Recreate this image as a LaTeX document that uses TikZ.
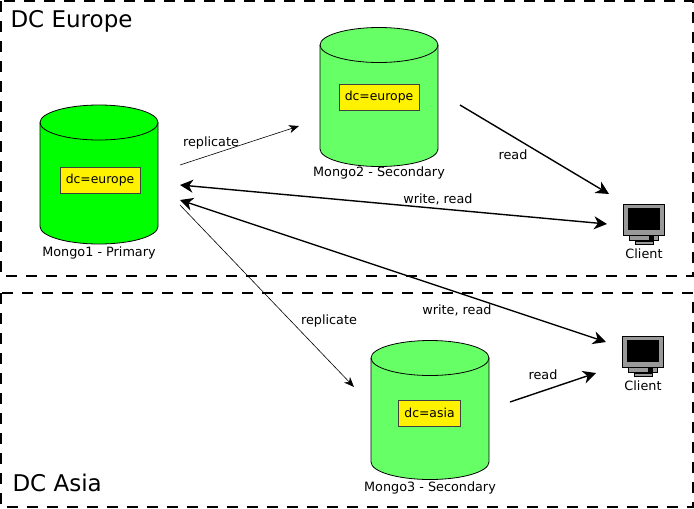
\documentclass[tikz,border=0pt]{standalone}
\usepackage{fontspec}
\setmainfont{DejaVu Sans}
\usetikzlibrary{arrows.meta}
\definecolor{primarygreen}{RGB}{0,255,0}
\definecolor{secondarygreen}{RGB}{102,255,102}
\tikzset{
  dcbox/.style    = {draw,line width=1.5pt,dash pattern=on 11pt off 9pt},
  dclabel/.style  = {anchor=west,font=\fontsize{23}{27}\selectfont},
  tagbox/.style   = {draw=black!75,fill=yellow,line width=0.8pt,minimum width=80pt,minimum height=26pt,
                     inner sep=0pt,font=\fontsize{12.4}{15}\selectfont},
  caption/.style  = {font=\fontsize{12.8}{15}\selectfont},
  thinarr/.style  = {-{Stealth[length=10pt,width=8pt,inset=3pt]},line width=0.6pt},
  vecarr/.style   = {-{Stealth[length=13pt,width=13pt,inset=4pt]},line width=1.4pt},
  bothvec/.style  = {{Stealth[length=13pt,width=13pt,inset=4pt]}-{Stealth[length=13pt,width=13pt,inset=4pt]},line width=1.4pt},
  mongodb/.pic = {
    \draw[fill=#1,line width=0.8pt] (-59,-52) -- (-59,52) arc[x radius=59,y radius=17.5,start angle=180,end angle=0]
      -- (59,-52) arc[x radius=59,y radius=17.5,start angle=0,end angle=-180] -- cycle;
    \draw[line width=0.8pt] (-59,-52) arc[x radius=59,y radius=17.5,start angle=180,end angle=0];
  },
  client/.pic = {
    \draw[fill=black!40,line width=0.6pt] (-9,20) rectangle (9,23);
    \draw[fill=black!40,line width=0.7pt] (-15,14) rectangle (14,19);
    \draw[fill=black!40,line width=0.9pt] (-21,-17) rectangle (20,14);
    \fill[black] (-16,-13) rectangle (16,9);
    \fill[black] (5,15) rectangle (10,19);
  }
}

\begin{document}
\begin{tikzpicture}[x=1pt,y=-1pt]
  \useasboundingbox (0,0) rectangle (694,509);
  \draw[dcbox] (1,1) rectangle (693,276);
  \draw[dcbox] (1,293) rectangle (693,507);
  \node[dclabel] (europe) at (7,21) {DC Europe};
  \node[dclabel] (asia) at (9,483) {DC Asia};

  % databases
  \pic (mongo1) at (99,174.5) {mongodb=primarygreen};
  \pic (mongo2) at (379,97) {mongodb=secondarygreen};
  \pic (mongo3) at (430,410) {mongodb=secondarygreen};
  \node[tagbox] (tag1) at (100,180) {dc=europe};
  \node[tagbox] (tag2) at (379,97.5) {dc=europe};
  \node[tagbox,minimum width=62pt] (tag3) at (429.5,413) {dc=asia};
  \node[caption] (cap1) at (99,253) {Mongo1 - Primary};
  \node[caption] (cap2) at (379,173) {Mongo2 - Secondary};
  \node[caption] (cap3) at (430,488) {Mongo3 - Secondary};

  % clients
  \pic (screen1) at (644,221) {client};
  \pic (screen2) at (643,353) {client};
  \node[caption] (client1) at (644,254) {Client};
  \node[caption] (client2) at (643,386) {Client};

  % connector ends
  \coordinate (m1a) at (180,165);
  \coordinate (m1b) at (180,185);
  \coordinate (m1c) at (180,200);
  \coordinate (m1d) at (180,205);
  \coordinate (m2a) at (299,126);
  \coordinate (m2b) at (460,105);
  \coordinate (m3a) at (354,387);
  \coordinate (m3b) at (510,402);
  \coordinate (c1a) at (609,194);
  \coordinate (c1b) at (607,224);
  \coordinate (c2a) at (606,342);
  \coordinate (c2b) at (596,373);

  \draw[thinarr] (m1a) -- (m2a);
  \draw[thinarr] (m1d) -- (m3a);
  \draw[vecarr] (m2b) -- (c1a);
  \draw[bothvec] (m1b) -- (c1b);
  \draw[bothvec] (m1c) -- (c2a);
  \draw[vecarr] (m3b) -- (c2b);
  \node[caption] (lab1) at (211,142.5) {replicate};
  \node[caption] (lab2) at (329,320.5) {replicate};
  \node[caption] (lab3) at (513,155) {read};
  \node[caption] (lab4) at (438,199.5) {write, read};
  \node[caption] (lab5) at (457,310) {write, read};
  \node[caption] (lab6) at (543,375) {read};
\end{tikzpicture}
\end{document}
